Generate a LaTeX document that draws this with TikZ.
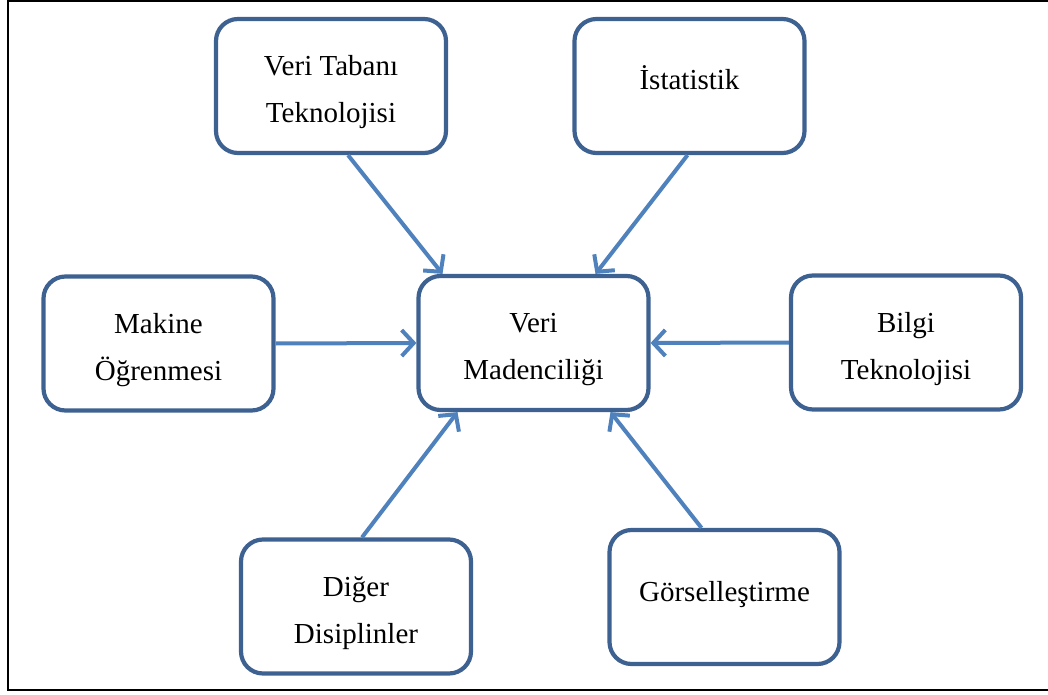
\documentclass[tikz,border=0pt]{standalone}
\usepackage{fontspec}
\setmainfont{Liberation Serif}
\usetikzlibrary{
	arrows.meta,
}
\definecolor{boxblue}{HTML}{3D6191}
\definecolor{arrowblue}{HTML}{4F81BD}
\tikzset{
	box/.style={draw=boxblue, line width=2.1pt, rounded corners=11pt, minimum width=115pt, minimum height=67pt, align=center, font=\fontsize{14.5}{23.5}\selectfont, text height=40pt},
	onerow/.style={text height=10pt, text depth=6pt},
	link/.style={draw=arrowblue, line width=2pt, -{Straight Barb[length=6pt,width=13pt]}},
}

\begin{document}
\begin{tikzpicture}[x=0.5pt, y=-0.5pt]
			\useasboundingbox (0,0) rectangle (1048,695);
			\draw[line width=1.2pt] (1048,1) -- (8,1) -- (8,690) -- (1048,690);
			\node[box] (vm) at (533.5,343) {Veri\\Madenciliği};
			\node[box] (vtt) at (331,86) {Veri Tabanı\\Teknolojisi};
			\node[box, onerow] (ist) at (689.5,86) {İstatistik};
			\node[box] (mo) at (158.5,343.5) {Makine\\Öğrenmesi};
			\node[box] (bt) at (906,342.5) {Bilgi\\Teknolojisi};
			\node[box] (dd) at (356,606.5) {Diğer\\Disiplinler};
			\node[box, onerow] (gor) at (724.5,597) {Görselleştirme};
			\draw[link] ([xshift=8.5pt]vtt.south) -- ([xshift=-45.5pt]vm.north);
			\draw[link] ([xshift=-1pt]ist.south) -- ([xshift=31pt]vm.north);
			\draw[link] (mo.east) -- (vm.west);
			\draw[link] (bt.west) -- (vm.east);
			\draw[link] ([xshift=3pt]dd.north) -- ([xshift=-38pt]vm.south);
			\draw[link] ([xshift=-11.5pt]gor.north) -- ([xshift=38.5pt]vm.south);
		\end{tikzpicture}
\end{document}
